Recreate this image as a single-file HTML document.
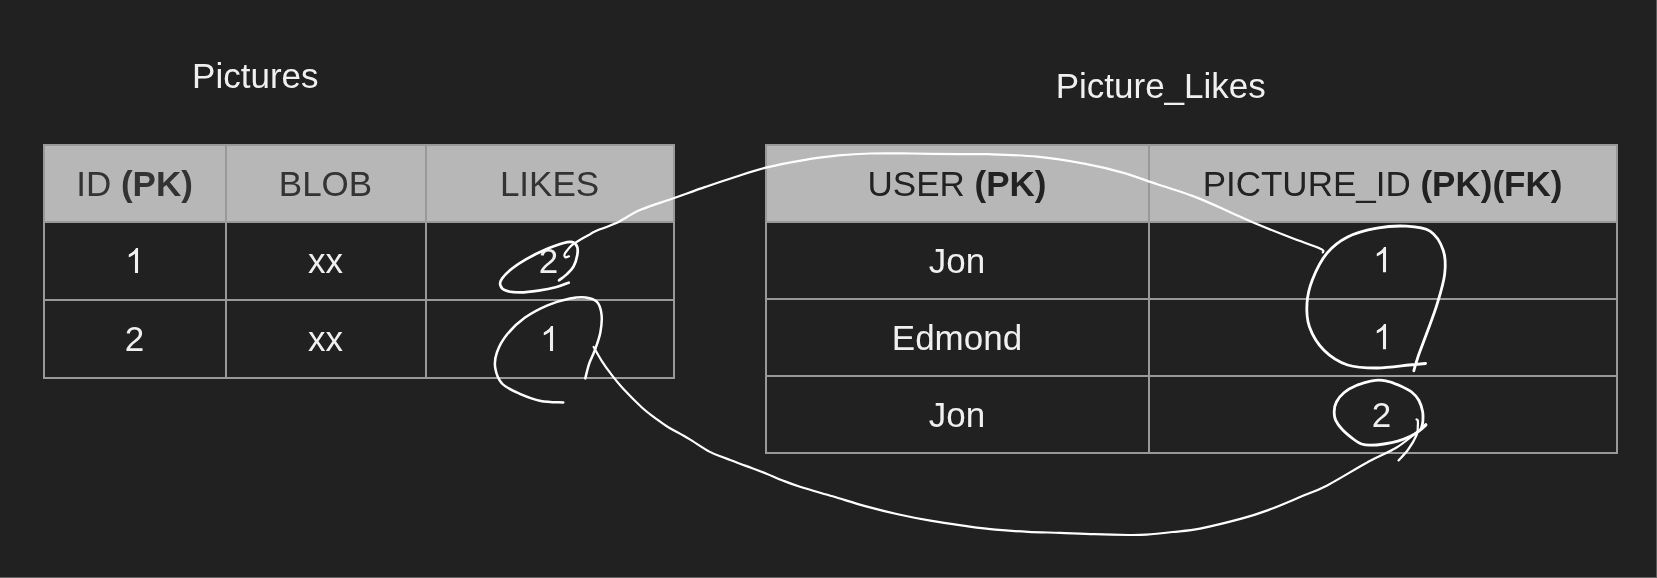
<!DOCTYPE html>
<html><head><meta charset="utf-8"><style>
html,body{margin:0;padding:0;}
body{width:1657px;height:578px;background:#212121;position:relative;overflow:hidden;font-family:"Liberation Sans",sans-serif;}
.l{position:absolute;}
.t{position:absolute;height:40px;line-height:40px;text-align:center;white-space:nowrap;}
svg.ov{position:absolute;left:0;top:0;}
svg.one{display:inline-block;vertical-align:baseline;}
#wrap{position:absolute;left:0;top:0;width:1657px;height:578px;background:#212121;will-change:transform;}
</style></head><body><div id="wrap">
<div class="l" style="left:44px;top:145px;width:630px;height:77px;background:#b7b7b7"></div>
<div class="l" style="left:43px;top:144px;width:632px;height:2px;background:#999999"></div>
<div class="l" style="left:43px;top:221px;width:632px;height:2px;background:#999999"></div>
<div class="l" style="left:43px;top:299px;width:632px;height:2px;background:#999999"></div>
<div class="l" style="left:43px;top:377px;width:632px;height:2px;background:#999999"></div>
<div class="l" style="left:43px;top:144px;width:2px;height:235px;background:#999999"></div>
<div class="l" style="left:225px;top:144px;width:2px;height:235px;background:#999999"></div>
<div class="l" style="left:425px;top:144px;width:2px;height:235px;background:#999999"></div>
<div class="l" style="left:673px;top:144px;width:2px;height:235px;background:#999999"></div>
<div class="t" style="left:-165.5px;top:163.5px;width:600px;color:#333333;font-size:35px">ID <b>(PK)</b></div>
<div class="t" style="left:25.5px;top:163.5px;width:600px;color:#333333;font-size:35px">BLOB</div>
<div class="t" style="left:249.5px;top:163.5px;width:600px;color:#333333;font-size:35px">LIKES</div>
<div class="t" style="left:-165.5px;top:241px;width:600px;color:#f0f0f0;font-size:35px"><svg class="one" width="19.47" height="26.25" viewBox="0 0 1139 1536"><path d="M763 1536L583 1536L583 389Q518 451 412 513Q306 575 221 606L221 432Q372 361 485 260Q598 159 645 64L763 64Z" fill="currentColor"/></svg></div>
<div class="t" style="left:25.5px;top:241px;width:600px;color:#f0f0f0;font-size:35px">xx</div>
<div class="t" style="left:249.5px;top:241px;width:600px;color:#f0f0f0;font-size:35px"><span style="position:relative;left:-1px">2</span></div>
<div class="t" style="left:-165.5px;top:319px;width:600px;color:#f0f0f0;font-size:35px">2</div>
<div class="t" style="left:25.5px;top:319px;width:600px;color:#f0f0f0;font-size:35px">xx</div>
<div class="t" style="left:249.5px;top:319px;width:600px;color:#f0f0f0;font-size:35px"><svg class="one" width="19.47" height="26.25" viewBox="0 0 1139 1536"><path d="M763 1536L583 1536L583 389Q518 451 412 513Q306 575 221 606L221 432Q372 361 485 260Q598 159 645 64L763 64Z" fill="currentColor"/></svg></div>
<div class="l" style="left:766px;top:145px;width:851px;height:77px;background:#b7b7b7"></div>
<div class="l" style="left:765px;top:144px;width:853px;height:2px;background:#999999"></div>
<div class="l" style="left:765px;top:221px;width:853px;height:2px;background:#999999"></div>
<div class="l" style="left:765px;top:298px;width:853px;height:2px;background:#999999"></div>
<div class="l" style="left:765px;top:375px;width:853px;height:2px;background:#999999"></div>
<div class="l" style="left:765px;top:452px;width:853px;height:2px;background:#999999"></div>
<div class="l" style="left:765px;top:144px;width:2px;height:310px;background:#999999"></div>
<div class="l" style="left:1148px;top:144px;width:2px;height:310px;background:#999999"></div>
<div class="l" style="left:1616px;top:144px;width:2px;height:310px;background:#999999"></div>
<div class="t" style="left:657px;top:163.5px;width:600px;color:#222222;font-size:35px">USER <b>(PK)</b></div>
<div class="t" style="left:1082.5px;top:163.5px;width:600px;color:#222222;font-size:35px">PICTURE_ID <b>(PK)(FK)</b></div>
<div class="t" style="left:657px;top:240.5px;width:600px;color:#f0f0f0;font-size:35px">Jon</div>
<div class="t" style="left:1082.5px;top:240.5px;width:600px;color:#f0f0f0;font-size:35px"><svg class="one" width="19.47" height="26.25" viewBox="0 0 1139 1536"><path d="M763 1536L583 1536L583 389Q518 451 412 513Q306 575 221 606L221 432Q372 361 485 260Q598 159 645 64L763 64Z" fill="currentColor"/></svg></div>
<div class="t" style="left:657px;top:317.5px;width:600px;color:#f0f0f0;font-size:35px">Edmond</div>
<div class="t" style="left:1082.5px;top:317.5px;width:600px;color:#f0f0f0;font-size:35px"><svg class="one" width="19.47" height="26.25" viewBox="0 0 1139 1536"><path d="M763 1536L583 1536L583 389Q518 451 412 513Q306 575 221 606L221 432Q372 361 485 260Q598 159 645 64L763 64Z" fill="currentColor"/></svg></div>
<div class="t" style="left:657px;top:394.5px;width:600px;color:#f0f0f0;font-size:35px">Jon</div>
<div class="t" style="left:1082.5px;top:394.5px;width:600px;color:#f0f0f0;font-size:35px"><span style="position:relative;left:-1px">2</span></div>
<div class="t" style="left:-44.7px;top:56.2px;width:600px;color:#f0f0f0;font-size:35px">Pictures</div>
<div class="t" style="left:860.75px;top:65.6px;width:600px;color:#f0f0f0;font-size:35px">Picture_Likes</div>
<div class="l" style="left:1656px;top:0;width:1px;height:578px;background:#5c5c5c"></div>
<div class="l" style="left:0;top:577px;width:1657px;height:1px;background:#666666"></div>
<svg class="ov" width="1657" height="578" viewBox="0 0 1657 578"><g fill="none" stroke="#ffffff" stroke-linecap="round" stroke-linejoin="round">
<path d="M568.7,282.7 C566.7,283.4 561.6,285.7 556.6,287.0 C551.6,288.3 544.5,289.7 538.5,290.6 C532.5,291.5 525.8,292.4 520.3,292.4 C514.8,292.4 509.0,291.8 505.7,290.6 C502.4,289.4 500.9,287.1 500.3,285.1 C499.7,283.1 500.2,281.2 502.1,278.5 C504.0,275.8 507.8,272.0 511.8,268.8 C515.8,265.6 520.8,262.2 526.3,259.1 C531.8,256.0 538.4,252.6 544.5,250.0 C550.6,247.4 558.1,244.6 562.7,243.3 C567.4,242.0 570.0,241.5 572.4,242.1 C574.8,242.7 576.4,244.8 577.2,247.0 C578.0,249.2 577.8,252.2 577.2,255.4 C576.6,258.6 575.2,263.3 573.6,266.3 C572.0,269.3 569.9,271.3 567.5,273.6 C565.1,275.9 560.5,279.2 559.1,280.3" stroke-width="2.7"/>
<path d="M569.0,256.3 C568.4,256.5 566.1,257.7 565.4,257.3 C564.7,256.9 564.3,255.3 564.6,254.2 C564.9,253.1 565.9,252.0 567.0,250.6 C568.1,249.2 569.7,247.2 571.1,245.9 C572.5,244.6 573.6,243.9 575.2,242.8 C576.9,241.7 578.8,240.5 581.0,239.2 C583.2,237.9 586.3,236.3 588.7,235.0 C591.1,233.7 590.9,233.1 595.4,231.2 C599.9,229.2 608.3,226.8 615.7,223.3 C623.1,219.8 630.7,214.1 640.0,210.0 C649.3,205.9 660.5,202.8 671.4,199.0 C682.3,195.2 694.9,190.5 705.4,186.9 C715.9,183.3 724.3,180.4 734.4,177.2 C744.5,174.0 754.6,170.4 765.9,167.6 C777.2,164.8 790.2,162.3 802.3,160.3 C814.4,158.3 827.3,156.5 838.6,155.4 C849.9,154.3 858.0,153.8 870.1,153.5 C882.2,153.2 896.3,153.4 911.3,153.5 C926.3,153.6 947.1,154.1 960.0,154.2 C972.9,154.3 975.7,153.8 988.5,154.2 C1001.3,154.6 1020.8,155.1 1036.9,156.7 C1053.1,158.3 1071.3,161.3 1085.4,163.9 C1099.5,166.5 1109.6,169.0 1121.7,172.4 C1133.8,175.8 1145.9,180.5 1158.0,184.5 C1170.1,188.5 1182.3,191.9 1194.4,196.6 C1206.5,201.2 1220.6,207.9 1230.7,212.4 C1240.8,216.9 1244.9,219.1 1255.0,223.3 C1265.1,227.5 1280.4,233.6 1291.3,237.8 C1302.2,242.0 1315.2,246.3 1320.4,248.7 C1325.7,251.1 1322.4,251.8 1322.8,252.4" stroke-width="2.2"/>
<path d="M1425.6,363.5 C1422.9,363.8 1417.5,364.2 1409.4,365.0 C1401.3,365.8 1387.3,368.0 1377.0,368.0 C1366.7,368.0 1356.4,367.9 1347.6,365.0 C1338.8,362.1 1330.4,356.7 1324.0,350.3 C1317.6,343.9 1312.2,334.7 1309.4,326.8 C1306.6,318.9 1306.5,311.1 1307.0,303.2 C1307.5,295.3 1309.1,288.0 1312.4,279.7 C1315.7,271.4 1321.1,260.3 1327.0,253.2 C1332.9,246.1 1339.3,241.2 1347.6,237.0 C1355.9,232.8 1367.2,230.0 1377.0,228.2 C1386.8,226.4 1397.7,225.7 1406.5,226.2 C1415.3,226.7 1423.9,227.2 1430.0,231.2 C1436.1,235.2 1440.8,243.2 1443.2,250.3 C1445.7,257.4 1445.7,265.0 1444.7,273.8 C1443.7,282.6 1440.4,293.4 1437.4,303.2 C1434.5,313.0 1430.2,323.8 1427.0,332.6 C1423.8,341.4 1420.4,349.8 1418.2,356.2 C1416.0,362.6 1414.5,368.4 1413.8,370.9" stroke-width="2.8"/>
<path d="M563.3,402.5 C559.5,402.2 547.9,402.3 540.8,400.9 C533.7,399.5 526.9,396.9 520.5,394.1 C514.1,391.3 506.7,388.3 502.5,384.0 C498.3,379.7 496.2,373.6 495.3,368.3 C494.4,363.1 494.9,358.1 496.9,352.5 C498.8,346.9 502.3,340.3 507.0,334.5 C511.7,328.7 518.2,322.5 525.0,317.6 C531.8,312.7 540.0,308.5 547.5,305.3 C555.0,302.1 563.6,299.8 570.0,298.5 C576.4,297.2 581.3,296.8 585.8,297.4 C590.3,298.0 594.4,299.1 597.0,301.9 C599.6,304.7 600.9,309.2 601.5,314.3 C602.1,319.4 601.5,326.3 600.4,332.3 C599.3,338.3 596.7,345.1 594.8,350.3 C592.9,355.6 590.7,359.1 589.1,363.8 C587.5,368.5 585.9,376.0 585.3,378.4" stroke-width="2.5"/>
<path d="M593.6,346.9 C595.0,349.2 598.8,356.3 601.7,360.8 C604.6,365.3 607.1,368.9 610.8,373.7 C614.5,378.4 618.5,383.7 623.7,389.3 C628.9,394.9 636.7,402.7 641.9,407.5 C647.1,412.3 650.6,414.6 654.9,417.9 C659.2,421.1 662.3,423.6 667.9,427.0 C673.5,430.4 681.7,434.5 688.6,438.6 C695.5,442.7 703.3,448.4 709.4,451.6 C715.5,454.9 718.9,455.7 725.0,458.1 C731.1,460.5 738.9,463.3 745.8,465.9 C752.7,468.5 760.5,471.3 766.5,473.7 C772.5,476.1 776.5,478.0 782.1,480.2 C787.7,482.4 791.6,484.1 800.0,486.8 C808.4,489.5 821.7,493.1 832.6,496.3 C843.5,499.5 854.3,503.1 865.2,506.1 C876.1,509.1 886.9,511.8 897.8,514.2 C908.7,516.6 919.5,518.8 930.4,520.7 C941.2,522.6 952.0,524.1 962.9,525.6 C973.8,527.1 984.6,528.7 995.5,529.7 C1006.4,530.7 1017.3,531.3 1028.1,531.8 C1038.8,532.3 1048.9,532.5 1060.0,532.9 C1071.1,533.3 1083.1,533.9 1094.6,534.2 C1106.1,534.6 1120.5,534.9 1129.2,535.0 C1137.9,535.1 1139.3,535.1 1146.5,534.6 C1153.7,534.1 1163.6,533.0 1172.5,532.0 C1181.4,531.0 1188.4,530.9 1200.0,528.6 C1211.6,526.3 1230.9,521.5 1242.3,518.4 C1253.7,515.3 1258.6,513.6 1268.2,510.1 C1277.8,506.6 1290.2,501.2 1300.0,497.1 C1309.8,493.0 1315.7,491.3 1327.2,485.4 C1338.7,479.5 1357.4,467.7 1368.8,461.5 C1380.2,455.3 1387.8,452.8 1395.8,448.0 C1403.8,443.2 1411.5,436.5 1416.5,432.5 C1421.5,428.5 1424.3,425.6 1425.9,424.2" stroke-width="2.2"/>
<path d="M1426.0,425.0 C1424.8,426.1 1421.3,429.5 1418.6,431.4 C1415.9,433.3 1413.4,435.0 1409.9,436.6 C1406.4,438.2 1402.1,440.0 1397.8,441.2 C1393.5,442.4 1388.6,443.3 1384.0,444.0 C1379.4,444.7 1373.8,445.2 1370.1,445.2 C1366.3,445.2 1364.1,444.9 1361.5,444.0 C1358.9,443.1 1357.8,442.4 1354.6,440.0 C1351.4,437.6 1345.7,433.0 1342.5,429.7 C1339.3,426.4 1337.0,423.1 1335.6,420.1 C1334.2,417.1 1334.1,414.5 1334.2,411.5 C1334.3,408.5 1334.7,405.2 1336.4,402.0 C1338.1,398.8 1340.9,395.2 1344.2,392.5 C1347.5,389.8 1351.7,387.4 1356.3,385.5 C1360.9,383.6 1367.0,381.6 1371.9,380.8 C1376.8,380.0 1381.1,380.0 1385.7,380.8 C1390.3,381.6 1395.2,383.6 1399.5,385.5 C1403.8,387.4 1408.4,389.5 1411.6,392.0 C1414.8,394.5 1417.0,397.1 1418.8,400.3 C1420.6,403.6 1421.9,407.9 1422.6,411.5 C1423.3,415.1 1423.0,419.0 1422.8,421.9 C1422.6,424.8 1421.5,427.6 1421.2,428.8" stroke-width="2.8"/>
<path d="M1398.5,460.4 C1400.1,458.6 1405.2,453.7 1408.2,449.5 C1411.2,445.3 1415.0,438.8 1416.6,435.0 C1418.2,431.2 1417.6,428.9 1417.8,426.5 C1418.0,424.1 1418.0,421.6 1417.8,420.4 C1417.6,419.2 1416.7,419.6 1416.5,419.5" stroke-width="2.2"/>
</g></svg>
</div></body></html>
